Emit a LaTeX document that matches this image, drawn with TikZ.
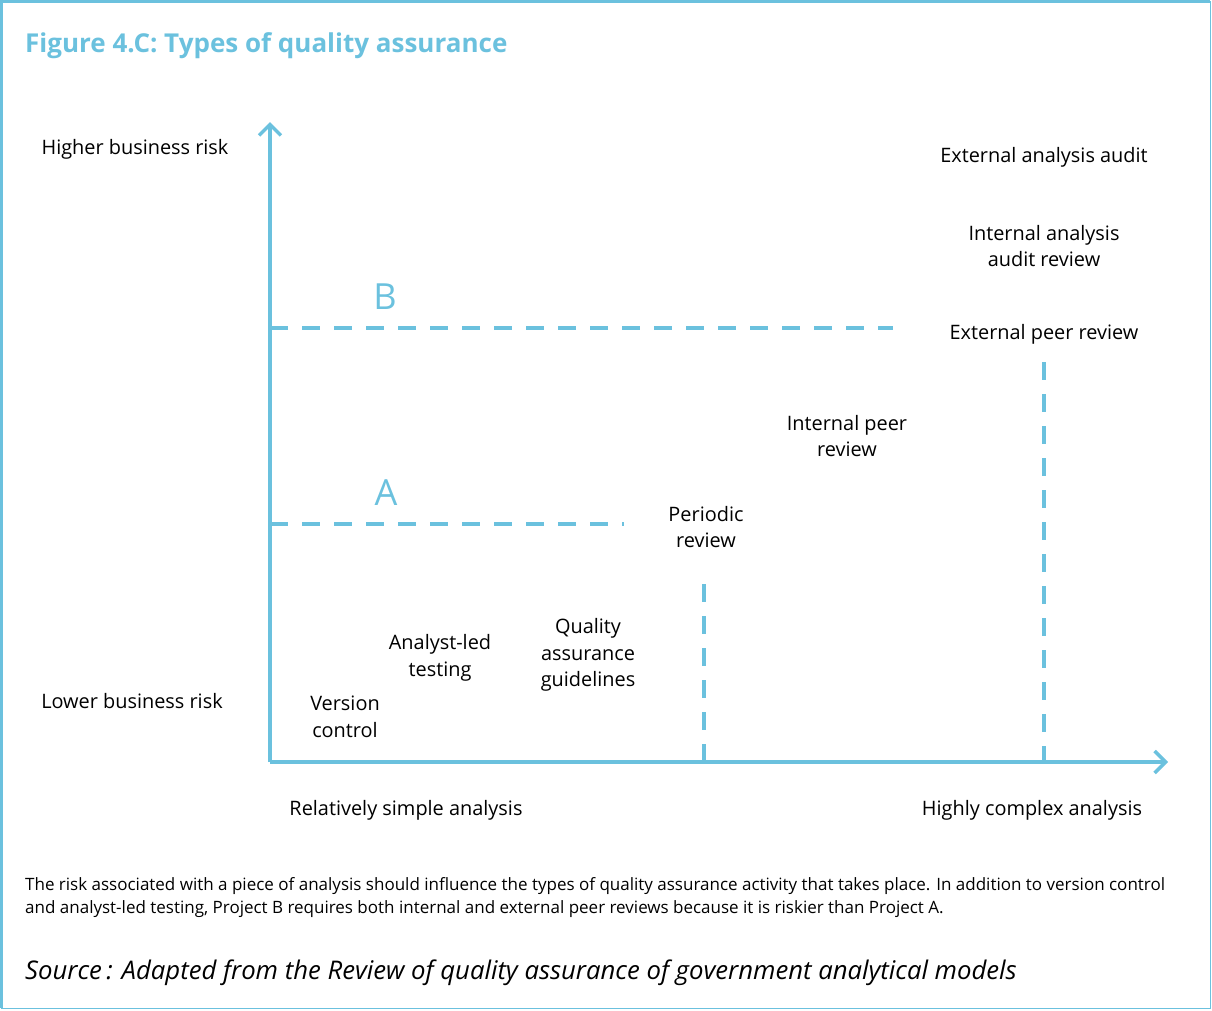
\documentclass[tikz,border=0pt]{standalone}
\usepackage{fontspec}
\setmainfont{Open Sans}
\usetikzlibrary{arrows.meta,positioning}
\definecolor{qablue}{HTML}{6BC1DE}
\tikzstyle{axis} = [draw=qablue, line width=3.5pt,
    -{Straight Barb[length=11pt,width=22pt]}]
\tikzstyle{level} = [draw=qablue, line width=4pt, dash pattern=on 18pt off 14pt]
\tikzstyle{qa} = [align=center, inner sep=0pt, font=\fontsize{19.9}{26.5}\selectfont]
\tikzstyle{proj} = [text=qablue, inner sep=0pt, font=\fontsize{36}{36}\selectfont]
\newcommand{\qasize}[1]{\fontsize{#1}{1.35\dimexpr#1pt\relax}\selectfont}

\begin{document}
\begin{tikzpicture}[x=1pt,y=-1pt]
  \useasboundingbox (0,0) rectangle (1212,1010);
  % frame
  \draw[qablue,line width=1.5pt] (1.5,1.5) rectangle (1210.5,1008.5);
  \draw[qablue,line width=3pt] (1.5,1008) -- (1.5,1.5) -- (1210,1.5);

  \node[anchor=base west,inner sep=0pt,text=qablue,font=\bfseries\fontsize{26}{30}\selectfont]
    (title) at (25,52) {Figure 4.C: Types of quality assurance};

  % axes
  \coordinate (o) at (270,762);
  \coordinate (ytip) at (270,122);
  \coordinate (xtip) at (1168,762);
  \draw[axis] (o) -- (ytip);
  \draw[axis] (o) -- (xtip);

  % projects
  \coordinate (b0) at (270,328);
  \coordinate (b1) at (893,328);
  \coordinate (a0) at (270,524);
  \coordinate (a1) at (624,524);
  \draw[level] (b0) -- (b1);
  \draw[level] (a0) -- (a1);
  \node[proj] (B) at (385,297) {B};
  \node[proj] (A) at (386,493) {A};

  \coordinate (p1) at (704,584);
  \coordinate (p0) at (704,762);
  \coordinate (e1) at (1044,362);
  \coordinate (e0) at (1044,762);
  \draw[level] (p1) -- (p0);
  \draw[level] (e1) -- (e0);

  % axis labels
  \node[qa] (high) at (135,149) {Higher business risk};
  \node[qa] (low) at (132,701) {Lower business risk};
  \node[qa] (simple) at (406,810) {Relatively simple analysis};
  \node[qa] (complex) at (1032,810) {Highly complex analysis};

  % activities
  \node[qa] (audit) at (1044,157) {External analysis audit};
  \node[qa] (intaudit) at (1044,246) {Internal analysis\\audit review};
  \node[qa] (extpeer) at (1044,334) {External peer review};
  \node[qa] (intpeer) at (847,436) {Internal peer\\review};
  \node[qa] (periodic) at (706,527) {Periodic\\review};
  \node[qa] (guide) at (588,655) {Quality\\assurance\\guidelines};
  \node[qa] (tests) at (440,658) {Analyst-led\\testing};
  \node[qa] (version) at (345,717) {Version\\control};

  \node[anchor=north west,align=left,inner sep=0pt,font=\qasize{17}]
    (note) at (25,877) {The risk associated with a piece of analysis should influence the types of quality assurance activity that takes place. In addition to version control\\
    and analyst-led testing, Project B requires both internal and external peer reviews because it is riskier than Project A.};
  \node[anchor=base west,inner sep=0pt,font=\itshape\fontsize{25.7}{30}\selectfont]
    (source) at (25,979) {Source\,: Adapted from the Review of quality assurance of government analytical models};
\end{tikzpicture}
\end{document}
